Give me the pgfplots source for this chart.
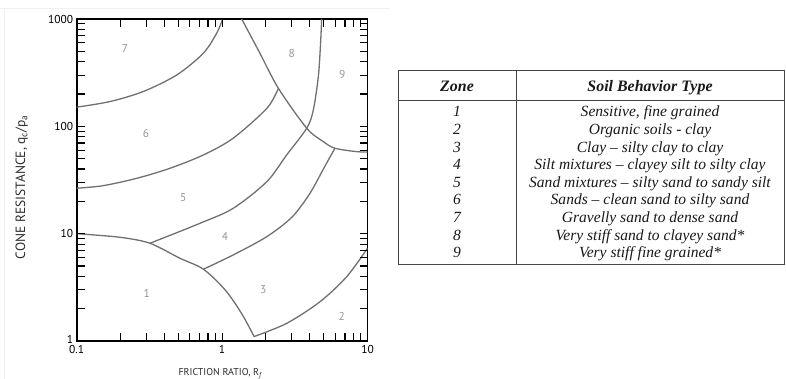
\documentclass[border=0pt]{standalone}
\usepackage{fontspec}
\setmainfont{Liberation Serif}
\newfontfamily\axisfont{PT Sans}
\usepackage{pgfplots}
\pgfplotsset{compat=1.18}

\definecolor{curve}{RGB}{112,112,112}
\definecolor{zonelbl}{RGB}{150,150,150}
\definecolor{tabline}{RGB}{70,70,70}
\definecolor{tabtext}{RGB}{25,25,25}
\definecolor{axlabel}{RGB}{45,45,45}

% plot frame in page units (bp): left, right, bottom, top
\def\fl{76.7}\def\fr{367.5}\def\fb{341}\def\ft{19}

\begin{document}
\begin{tikzpicture}
\useasboundingbox (0bp,0bp) rectangle (786bp,-379bp);
% faint frame of the chart panel
\draw[gray!12, line width=0.8bp] (0bp,-8bp) -- (390bp,-8bp) (4.5bp,-8bp) -- (4.5bp,-379bp);

\begin{axis}[
  at={(\fl bp,-\fb bp)}, anchor=south west,
  scale only axis, width=290.8bp, height=322bp,
  xmode=log, ymode=log,
  xmin=0.1, xmax=10, ymin=1, ymax=1000,
  xtick={0.1,1,10}, xticklabels={0.1,1,10},
  ytick={1,10,100,1000}, yticklabels={\raisebox{3bp}{1},10,100,1000},
  minor xtick={0.2,0.3,0.4,0.5,0.6,0.7,0.8,0.9,2,3,4,5,6,7,8,9},
  minor ytick={2,3,4,5,6,7,8,9,20,30,40,50,60,70,80,90,200,300,400,500,600,700,800,900},
  tick align=inside, xtick pos=both, ytick pos=both,
  major tick length=8bp, minor tick length=8bp,
  every tick/.style={black, line width=1.1bp},
  axis line style={black, line width=1.7bp},
  tick label style={font=\axisfont\fontsize{11.5}{11.5}\selectfont, text=black},
  xticklabel style={yshift=-1bp},
  xlabel={FRICTION RATIO, R\textsubscript{\itshape f}},
  ylabel={CONE RESISTANCE, q\textsubscript{c}/p\textsubscript{a}},
  xlabel style={at={(rel axis cs:0.493,-0.102)}, anchor=center,
    font=\axisfont\fontsize{10}{10}\selectfont, text=axlabel},
  ylabel style={at={(rel axis cs:-0.189,0.478)}, anchor=center,
    font=\axisfont\fontsize{13.5}{13.5}\selectfont, text=axlabel},
  zoneline/.style={curve, solid, line width=1.3bp, smooth, mark=none},
]
% zone 1 boundary
\addplot[zoneline] coordinates {(0.1,10) (0.199,9.25) (0.319,8.14) (0.513,5.90) (0.743,4.67) (1.05,2.99) (1.36,1.81) (1.66,1.10)};
% zone 2 / 3
\addplot[zoneline] coordinates {(1.66,1.10) (2.78,1.46) (4.71,2.32) (7.19,3.97) (10,7.31)};
% zone 3 / 4
\addplot[zoneline] coordinates {(0.743,4.66) (1.19,6.33) (2.03,9.38) (3.03,14.3) (4.03,23.9) (5.02,41.0) (5.97,62.5)};
% zone 4 / 5 continuing as zone 8 / 9
\addplot[zoneline] coordinates {(0.319,8.14) (0.705,12.5) (1.19,17.2) (2.03,30.5) (2.78,54.1) (3.82,96.0) (4.24,142) (4.59,290) (4.75,574) (4.84,1000)};
% zone 5 / 6
\addplot[zoneline] coordinates {(0.1,26.5) (0.152,28.0) (0.259,32.8) (0.439,40.7) (0.743,54.1) (1.19,77.4) (2.03,147) (2.44,226)};
% zone 6 / 7
\addplot[zoneline] coordinates {(0.1,151) (0.169,170) (0.287,211) (0.488,301) (0.743,480) (0.918,738) (1.01,1000)};
% upper boundary of zones 8 and 9
\addplot[zoneline] coordinates {(1.364,1000) (1.82,480) (2.44,226) (3.82,96.0) (4.97,72.0) (5.97,62.5) (8.43,58.1) (10,57.7)};

% zone numbers
\begin{scope}[every node/.style={font=\axisfont\fontsize{11.5}{11.5}\selectfont, text=zonelbl}]
\node at (axis cs:0.303,2.78) {1};
\node at (axis cs:6.65,1.68) {2};
\node at (axis cs:1.92,2.99) {3};
\node at (axis cs:1.047,9.38) {4};
\node at (axis cs:0.541,21.8) {5};
\node at (axis cs:0.300,86.2) {6};
\node at (axis cs:0.215,535) {7};
\node at (axis cs:3.01,480) {8};
\node at (axis cs:6.71,301) {9};
\end{scope}
\end{axis}

% inward log ticks on all four sides of the frame
\begin{scope}[black, line width=1.1bp]
\foreach \t in {0.1,0.2,0.3,0.4,0.5,0.6,0.7,0.8,0.9,1,2,3,4,5,6,7,8,9,10} {
  \pgfmathsetmacro{\px}{\fl+145.4*(log10(\t)+1)}
  \draw (\px bp,-\fb bp) -- ++(0bp,8bp);
  \draw (\px bp,-\ft bp) -- ++(0bp,-8bp);
}
\foreach \t in {1,2,3,4,5,6,7,8,9,10,20,30,40,50,60,70,80,90,100,200,300,400,500,600,700,800,900,1000} {
  \pgfmathsetmacro{\py}{\fb-107.33*log10(\t)}
  \draw (\fl bp,-\py bp) -- ++(8bp,0bp);
  \draw (\fr bp,-\py bp) -- ++(-8bp,0bp);
}
\end{scope}

% table of soil behaviour types
\draw[tabline, line width=0.9bp] (398.3bp,-70.7bp) rectangle (784bp,-264bp);
\draw[tabline, line width=0.9bp] (398.3bp,-100bp) -- (784bp,-100bp);
\draw[tabline, line width=0.9bp] (516bp,-70.7bp) -- (516bp,-264bp);
\begin{scope}[every node/.style={text=tabtext, inner sep=0pt, text height=10.5bp, text depth=0bp, anchor=center}]
\node[font=\bfseries\itshape\fontsize{16}{16}\selectfont] at (457bp,-86.5bp) {Zone};
\node[font=\bfseries\itshape\fontsize{16}{16}\selectfont] at (650bp,-86.5bp) {Soil Behavior Type};
\foreach \i/\t in {1/{Sensitive, fine grained},
                   2/{Organic soils - clay},
                   3/{Clay -- silty clay to clay},
                   4/{Silt mixtures -- clayey silt to silty clay},
                   5/{Sand mixtures -- silty sand to sandy silt},
                   6/{Sands -- clean sand to silty sand},
                   7/{Gravelly sand to dense sand},
                   8/{Very stiff sand to clayey sand*},
                   9/{Very stiff fine grained*}} {
  \pgfmathsetmacro{\ry}{-111.7-17.6*(\i-1)}
  \node[font=\itshape\fontsize{15.6}{15.6}\selectfont] at (457bp,\ry bp) {\i};
  \node[font=\itshape\fontsize{15.6}{15.6}\selectfont] at (650bp,\ry bp) {\t};
}
\end{scope}
\end{tikzpicture}
\end{document}
